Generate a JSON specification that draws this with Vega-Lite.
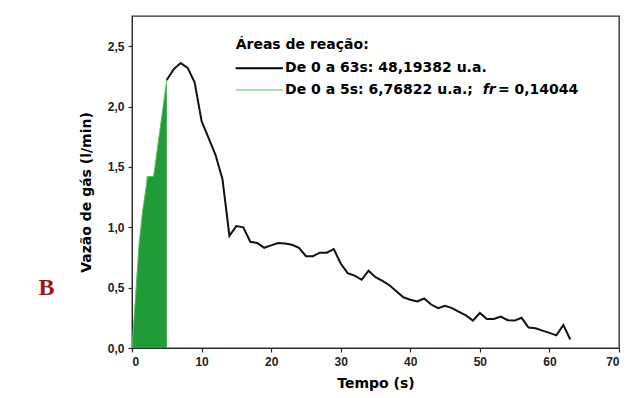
{
  "$schema": "https://vega.github.io/schema/vega-lite/v6.json",
  "width": 487,
  "height": 332,
  "autosize": {"type": "none"},
  "padding": {"left": 132, "top": 16, "right": 8, "bottom": 50},
  "background": "white",
  "config": {
    "view": {"stroke": "#2b2b2b", "strokeWidth": 1.3},
    "axis": {
      "domainColor": "#2b2b2b",
      "tickColor": "#2b2b2b",
      "tickSize": 4,
      "tickWidth": 1.2,
      "labelFont": "Liberation Sans",
      "labelFontWeight": "bold",
      "labelFontSize": 12,
      "labelColor": "#222222",
      "titleFont": "DejaVu Sans",
      "titleFontWeight": "bold",
      "titleFontSize": 14,
      "titleColor": "#000000",
      "grid": false
    }
  },
  "datasets": {
    "area": [
      {"t": 0, "v": 0},
      {"t": 0.5, "v": 0.42},
      {"t": 1, "v": 0.85},
      {"t": 1.5, "v": 1.12},
      {"t": 2, "v": 1.32},
      {"t": 2.2, "v": 1.42},
      {"t": 3.1, "v": 1.42},
      {"t": 5, "v": 2.22}
    ],
    "curve": [
      {"t": 5, "v": 2.22}, {"t": 6, "v": 2.31}, {"t": 7, "v": 2.36}, {"t": 8, "v": 2.32},
      {"t": 9, "v": 2.2}, {"t": 10, "v": 1.88}, {"t": 11, "v": 1.74}, {"t": 12, "v": 1.6},
      {"t": 13, "v": 1.4}, {"t": 14, "v": 0.93}, {"t": 15, "v": 1.01}, {"t": 16, "v": 1.0},
      {"t": 17, "v": 0.88}, {"t": 18, "v": 0.87}, {"t": 19, "v": 0.83}, {"t": 20, "v": 0.85},
      {"t": 21, "v": 0.87}, {"t": 22, "v": 0.865}, {"t": 23, "v": 0.855}, {"t": 24, "v": 0.83},
      {"t": 25, "v": 0.76}, {"t": 26, "v": 0.76}, {"t": 27, "v": 0.79}, {"t": 28, "v": 0.79},
      {"t": 29, "v": 0.82}, {"t": 30, "v": 0.7}, {"t": 31, "v": 0.62}, {"t": 32, "v": 0.6},
      {"t": 33, "v": 0.565}, {"t": 34, "v": 0.64}, {"t": 35, "v": 0.587}, {"t": 36, "v": 0.556},
      {"t": 37, "v": 0.52}, {"t": 38, "v": 0.47}, {"t": 39, "v": 0.42}, {"t": 40, "v": 0.4},
      {"t": 41, "v": 0.385}, {"t": 42, "v": 0.41}, {"t": 43, "v": 0.36}, {"t": 44, "v": 0.33},
      {"t": 45, "v": 0.35}, {"t": 46, "v": 0.33}, {"t": 47, "v": 0.3}, {"t": 48, "v": 0.27},
      {"t": 49, "v": 0.227}, {"t": 50, "v": 0.29}, {"t": 51, "v": 0.24}, {"t": 52, "v": 0.24},
      {"t": 53, "v": 0.26}, {"t": 54, "v": 0.23}, {"t": 55, "v": 0.227}, {"t": 56, "v": 0.25},
      {"t": 57, "v": 0.17}, {"t": 58, "v": 0.163}, {"t": 59, "v": 0.144}, {"t": 60, "v": 0.125},
      {"t": 61, "v": 0.105}, {"t": 62, "v": 0.19}, {"t": 63, "v": 0.07}
    ],
    "one": [{}]
  },
  "layer": [
    {
      "data": {"name": "area"},
      "mark": {"type": "area", "color": "#1f9b38", "opacity": 1},
      "encoding": {
        "x": {
          "field": "t", "type": "quantitative",
          "scale": {"domain": [0, 70], "nice": false, "zero": false},
          "axis": {
            "title": "Tempo (s)",
            "values": [0, 5, 10, 15, 20, 25, 30, 35, 40, 45, 50, 55, 60, 65, 70],
            "labelExpr": "datum.value % 10 === 0 ? datum.label : ''",
            "labelPadding": 4,
            "titlePadding": 9
          }
        },
        "y": {
          "field": "v", "type": "quantitative",
          "scale": {"domain": [0, 2.75], "nice": false},
          "axis": {
            "title": "Vazão de gás (l/min)",
            "values": [0, 0.25, 0.5, 0.75, 1, 1.25, 1.5, 1.75, 2, 2.25, 2.5],
            "labelExpr": "(datum.value * 4) % 2 === 0 ? replace(format(datum.value, '.1f'), '.', ',') : ''",
            "labelPadding": 4,
            "titlePadding": 14,
            "titleY": 176
          }
        }
      }
    },
    {
      "data": {"name": "area"},
      "mark": {"type": "line", "color": "#5cc05c", "strokeWidth": 1},
      "encoding": {
        "x": {"field": "t", "type": "quantitative"},
        "y": {"field": "v", "type": "quantitative"}
      }
    },
    {
      "data": {"name": "curve"},
      "mark": {"type": "line", "color": "#111111", "strokeWidth": 2},
      "encoding": {
        "x": {"field": "t", "type": "quantitative"},
        "y": {"field": "v", "type": "quantitative"}
      }
    },
    {
      "data": {"name": "one"},
      "mark": {"type": "text", "text": "Áreas de reação:", "font": "DejaVu Sans", "fontWeight": "bold", "fontSize": 14, "align": "left", "baseline": "middle", "color": "#000"},
      "encoding": {"x": {"datum": 14.9, "type": "quantitative"}, "y": {"datum": 2.51, "type": "quantitative"}}
    },
    {
      "data": {"name": "one"},
      "mark": {"type": "rule", "color": "#000", "strokeWidth": 2},
      "encoding": {"x": {"datum": 14.9, "type": "quantitative"}, "x2": {"datum": 21.7}, "y": {"datum": 2.317, "type": "quantitative"}}
    },
    {
      "data": {"name": "one"},
      "mark": {"type": "rule", "color": "#5cc05c", "strokeWidth": 1},
      "encoding": {"x": {"datum": 14.9, "type": "quantitative"}, "x2": {"datum": 21.7}, "y": {"datum": 2.137, "type": "quantitative"}}
    },
    {
      "data": {"name": "one"},
      "mark": {"type": "text", "text": "De  0 a 63s: 48,19382 u.a.", "font": "DejaVu Sans", "fontWeight": "bold", "fontSize": 14, "align": "left", "baseline": "middle", "color": "#000"},
      "encoding": {"x": {"datum": 22.0, "type": "quantitative"}, "y": {"datum": 2.317, "type": "quantitative"}}
    },
    {
      "data": {"name": "one"},
      "mark": {"type": "text", "text": "De  0 a 5s: 6,76822 u.a.;", "font": "DejaVu Sans", "fontWeight": "bold", "fontSize": 14, "align": "left", "baseline": "middle", "color": "#000"},
      "encoding": {"x": {"datum": 22.0, "type": "quantitative"}, "y": {"datum": 2.137, "type": "quantitative"}}
    },
    {
      "data": {"name": "one"},
      "mark": {"type": "text", "text": "fr", "font": "DejaVu Sans", "fontWeight": "bold", "fontStyle": "italic", "fontSize": 14, "align": "left", "baseline": "middle", "color": "#000"},
      "encoding": {"x": {"datum": 50.4, "type": "quantitative"}, "y": {"datum": 2.137, "type": "quantitative"}}
    },
    {
      "data": {"name": "one"},
      "mark": {"type": "text", "text": "= 0,14044", "font": "DejaVu Sans", "fontWeight": "bold", "fontSize": 14, "align": "left", "baseline": "middle", "color": "#000"},
      "encoding": {"x": {"datum": 52.6, "type": "quantitative"}, "y": {"datum": 2.137, "type": "quantitative"}}
    },
    {
      "data": {"name": "one"},
      "mark": {"type": "text", "text": "B", "font": "Liberation Serif", "fontWeight": "bold", "fontSize": 24, "align": "center", "baseline": "middle", "color": "#a0141e"},
      "encoding": {"x": {"datum": -12.3, "type": "quantitative"}, "y": {"datum": 0.5, "type": "quantitative"}}
    }
  ]
}
